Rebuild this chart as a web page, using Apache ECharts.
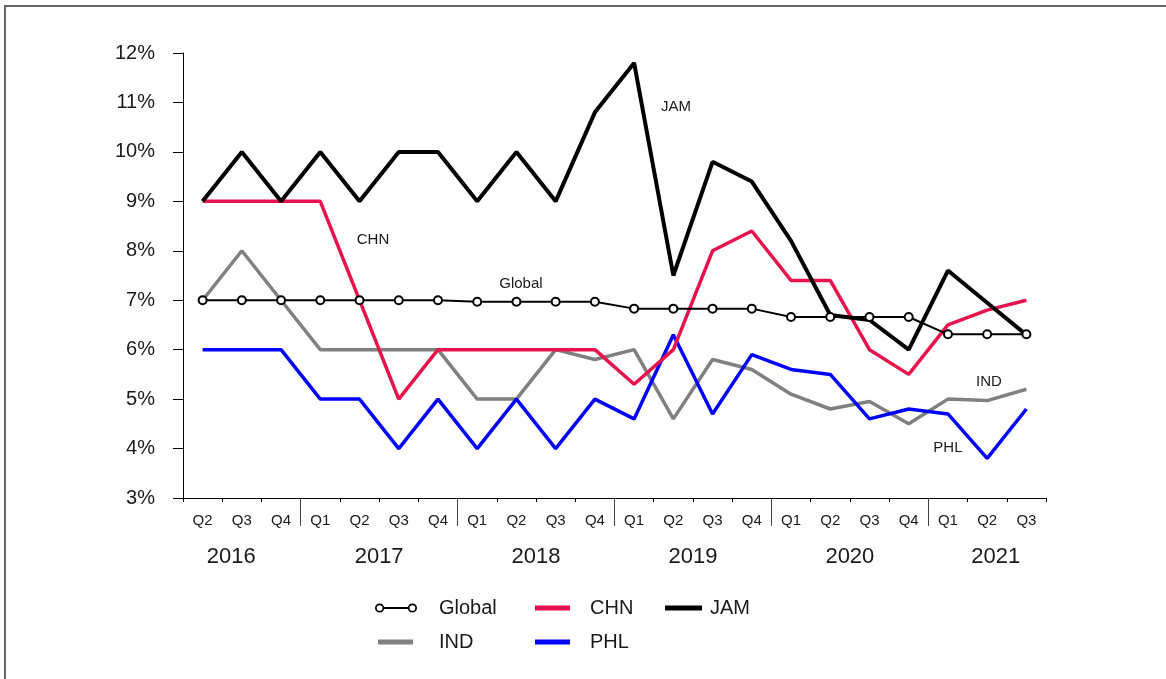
<!DOCTYPE html>
<html>
<head>
<meta charset="utf-8">
<script src="https://cdn.jsdelivr.net/npm/echarts@6/dist/echarts.min.js"></script>
<style>
html,body{margin:0;padding:0;background:#fff;}
#c{width:1166px;height:679px;}
</style>
</head>
<body>
<div id="c"></div>
<script>
// ---- data ----
const quarterLabels = ['Q2','Q3','Q4','Q1','Q2','Q3','Q4','Q1','Q2','Q3','Q4','Q1','Q2','Q3','Q4','Q1','Q2','Q3','Q4','Q1','Q2','Q3'];
const quarterYears  = ['2016','2016','2016','2017','2017','2017','2017','2018','2018','2018','2018','2019','2019','2019','2019','2020','2020','2020','2020','2021','2021','2021'];
const yLabelsPct = [3,4,5,6,7,8,9,10,11,12];

const globalVals = [7,7,7,7,7,7,7,6.97,6.97,6.97,6.97,6.83,6.83,6.83,6.83,6.66,6.66,6.66,6.66,6.31,6.31,6.31];
const chnVals    = [9,9,9,9,7,5,6,6,6,6,6,5.3,6.0,8.0,8.4,7.4,7.4,6.0,5.5,6.5,6.8,7.0];
const jamVals    = [9,10,9,10,9,10,10,9,10,9,10.8,11.8,7.5,9.8,9.4,8.2,6.7,6.6,6.0,7.6,6.95,6.3];
const indVals    = [7,8,7,6,6,6,6,5,5,6,5.8,6.0,4.6,5.8,5.6,5.1,4.8,4.95,4.5,5.0,4.97,5.2];
const phlVals    = [6,6,6,5,5,4,5,4,5,4,5,4.6,6.3,4.7,5.9,5.6,5.5,4.6,4.8,4.7,3.8,4.8];

const seriesNames = ['Global','CHN','JAM','IND','PHL'];

// ---- derived ----
const categories = quarterLabels.map((q, i) => quarterYears[i] + ' ' + q);
const boundaryCats = categories.map(c => 'b ' + c).concat(['b end']);
// year label anchors on boundary axis (index -> year)
const yearAnchors = {1:'2016', 5:'2017', 9:'2018', 13:'2019', 17:'2020', 21:'2021'};
const yearDividers = [3,7,11,15,19];

const FONT = 'Liberation Sans, Arial, sans-serif';
const TXT = '#1a1a1a';

const globalIcon = 'path://M0.5 5 A4.5 4.5 0 1 1 9.5 5 A4.5 4.5 0 1 1 0.5 5 Z M2.2 5 A2.8 2.8 0 1 0 7.8 5 A2.8 2.8 0 1 0 2.2 5 Z M9.5 4.1 L32.5 4.1 L32.5 5.9 L9.5 5.9 Z M32.5 5 A4.5 4.5 0 1 1 41.5 5 A4.5 4.5 0 1 1 32.5 5 Z M34.2 5 A2.8 2.8 0 1 0 39.8 5 A2.8 2.8 0 1 0 34.2 5 Z';

function annot(name, idx, val, dx) {
  return {
    symbol: 'rect', symbolSize: 1,
    itemStyle: {color: 'transparent'},
    data: [{coord: [idx, val]}],
    label: {show: true, position: 'inside', formatter: name, color: TXT, fontSize: 15, fontFamily: FONT, offset: [dx, 0]},
    silent: true
  };
}

function legendItem(name, icon, left, top, w, h, gap) {
  return {
    data: [{name: name, icon: icon}],
    left: left, top: top, padding: 0, itemGap: 0,
    itemWidth: w, itemHeight: h,
    selectedMode: false,
    textStyle: {fontSize: 20, color: TXT, fontFamily: FONT, padding: [0, 0, 0, Math.max(0, gap - 5)]}
  };
}

const chart = echarts.init(document.getElementById('c'));
chart.setOption({
  animation: false,
  backgroundColor: '#fff',
  textStyle: {fontFamily: FONT},
  graphic: [{
    type: 'rect', silent: true, z: 100,
    shape: {x: 5, y: 6, width: 1400, height: 900},
    style: {fill: 'none', stroke: '#666', lineWidth: 2}
  }],
  grid: {left: 183, right: 120, top: 53, bottom: 181, containLabel: false},
  legend: [
    Object.assign(legendItem('Global', globalIcon, 375, 598, 42, 10, 22), {itemStyle: {color: '#000', borderWidth: 0}}),
    legendItem('CHN', 'rect', 535, 598, 35, 5, 20),
    legendItem('JAM', 'rect', 665, 598, 37, 5, 8),
    legendItem('IND', 'rect', 378, 632, 35, 5, 26),
    legendItem('PHL', 'rect', 535, 632, 35, 5, 20)
  ],
  xAxis: [{
    type: 'category',
    data: categories,
    boundaryGap: true,
    axisLine: {show: true, lineStyle: {color: '#000', width: 1}},
    axisTick: {show: true, interval: 0, length: 4, lineStyle: {color: '#000'}},
    axisLabel: {interval: 0, margin: 15, fontSize: 15, color: TXT, fontFamily: FONT,
      formatter: v => v.split(' ')[1]},
    splitLine: {show: false}
  }, {
    type: 'category',
    data: boundaryCats,
    boundaryGap: false,
    position: 'bottom',
    axisLine: {show: false},
    axisTick: {show: true, length: 28, interval: (i) => yearDividers.indexOf(i) >= 0, lineStyle: {color: '#444'}},
    axisLabel: {
      margin: 48, fontSize: 22, color: TXT, fontFamily: FONT,
      interval: (i) => yearAnchors[i] !== undefined,
      formatter: (v, i) => {
        const y = yearAnchors[i];
        if (!y) return '';
        if (i === 1) return '{a|' + y + '}';
        if (i === 21) return '{b|' + y + '}';
        return '{c|' + y + '}';
      },
      rich: {
        a: {padding: [0, 0, 0, 18], fontSize: 22, color: TXT, fontFamily: FONT},
        b: {padding: [0, 22, 0, 0], fontSize: 22, color: TXT, fontFamily: FONT},
        c: {fontSize: 22, color: TXT, fontFamily: FONT}
      }
    },
    splitLine: {show: false}
  }],
  yAxis: {
    type: 'value',
    min: yLabelsPct[0], max: yLabelsPct[yLabelsPct.length - 1], interval: 1,
    axisLine: {show: true, lineStyle: {color: '#000', width: 1}},
    axisTick: {show: true, length: 10, lineStyle: {color: '#000'}},
    axisLabel: {formatter: '{value}%', fontSize: 20, margin: 28, color: TXT, fontFamily: FONT},
    splitLine: {show: false}
  },
  series: [
    {
      name: seriesNames[0], type: 'line', data: globalVals, z: 6,
      color: '#000',
      symbol: 'emptyCircle', symbolSize: 8, showSymbol: true,
      itemStyle: {color: '#000', borderWidth: 1.5},
      lineStyle: {color: '#000', width: 2},
      markPoint: annot('Global', 8, 7.33, 4.5)
    },
    {
      name: seriesNames[1], type: 'line', data: chnVals, z: 4,
      color: '#E8124C', symbol: 'none',
      lineStyle: {color: '#E8124C', width: 3.5},
      markPoint: annot('CHN', 4, 8.22, 13.5)
    },
    {
      name: seriesNames[2], type: 'line', data: jamVals, z: 5,
      color: '#000', symbol: 'none',
      lineStyle: {color: '#000', width: 4},
      markPoint: annot('JAM', 12, 10.92, 2.6)
    },
    {
      name: seriesNames[3], type: 'line', data: indVals, z: 2,
      color: '#808080', symbol: 'none',
      lineStyle: {color: '#808080', width: 3.5},
      markPoint: annot('IND', 20, 5.35, 1.8)
    },
    {
      name: seriesNames[4], type: 'line', data: phlVals, z: 3,
      color: '#0000FF', symbol: 'none',
      lineStyle: {color: '#0000FF', width: 3.5},
      markPoint: annot('PHL', 19, 4.02, 0)
    }
  ]
});
</script>
</body>
</html>
